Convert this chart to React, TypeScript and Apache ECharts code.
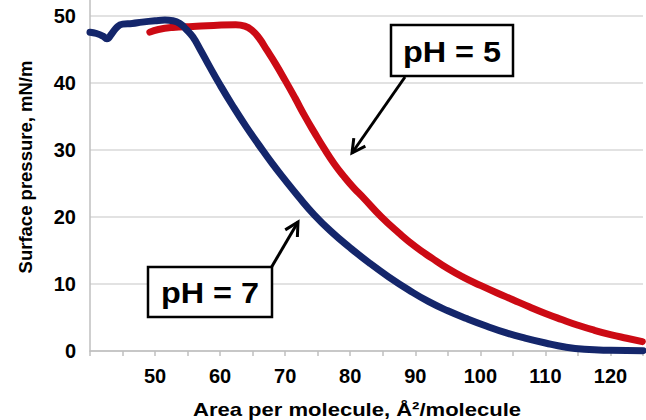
import React, { useEffect, useRef } from "react";
import * as echarts from "echarts";

const xTickValues = [50, 60, 70, 80, 90, 100, 110, 120];
const yTickValues = [0, 10, 20, 30, 40, 50];
const xTitle = "Area per molecule, Å²/molecule";
const yTitle = "Surface pressure, mN/m";

const ph7Area = [40, 41, 42, 42.6, 43.3, 44.2, 45, 46.5, 48, 50, 51.5, 52.7, 53.8, 54.8, 55.8, 57, 58.3, 60, 62, 64, 66, 68, 70, 72, 74.5, 77, 80, 83, 86, 89, 92, 95, 98, 101, 104, 107, 110, 113, 116, 120, 125];
const ph7Pressure = [47.6, 47.4, 47.0, 46.6, 47.3, 48.4, 48.8, 48.9, 49.1, 49.3, 49.4, 49.3, 48.9, 48.0, 46.9, 44.9, 42.6, 39.7, 36.5, 33.5, 30.7, 28.0, 25.5, 23.1, 20.3, 17.9, 15.4, 13.1, 11.0, 9.1, 7.4, 6.0, 4.8, 3.7, 2.7, 1.9, 1.2, 0.6, 0.25, 0.1, 0.05];

const ph5Area = [49.2, 50.5, 52.7, 55.8, 59, 62.4, 63.8, 65.0, 66.0, 67.2, 68.5, 70, 71.5, 73, 74.5, 76, 77.5, 79, 80.5, 82, 84.8, 87.5, 90, 92.5, 95, 97.5, 100, 102.5, 105, 107.5, 110, 112.5, 115, 117.5, 120, 122.5, 124.9];
const ph5Pressure = [47.6, 48.0, 48.3, 48.45, 48.6, 48.7, 48.5, 47.8, 46.7, 44.9, 42.9, 40.4, 37.8, 35.1, 32.6, 30.2, 28.0, 26.1, 24.4, 22.9, 20.0, 17.6, 15.6, 13.9, 12.3, 10.95, 9.8, 8.7, 7.65, 6.6, 5.6, 4.7, 3.85, 3.1, 2.45, 1.9, 1.4];

const FONT = "'Liberation Sans', Arial, sans-serif";

function arrow(x1: number, y1: number, x2: number, y2: number, head: number) {
  const dx = x2 - x1;
  const dy = y2 - y1;
  const len = Math.sqrt(dx * dx + dy * dy);
  const ux = dx / len;
  const uy = dy / len;
  const a = (28 * Math.PI) / 180;
  const rot = (ang: number) => [ux * Math.cos(ang) - uy * Math.sin(ang), ux * Math.sin(ang) + uy * Math.cos(ang)];
  const r1 = rot(a);
  const r2 = rot(-a);
  return [
    { type: "line", shape: { x1, y1, x2, y2 }, style: { stroke: "#000", lineWidth: 3 }, z: 99 },
    {
      type: "polyline",
      shape: { points: [[x2 - head * r1[0], y2 - head * r1[1]], [x2, y2], [x2 - head * r2[0], y2 - head * r2[1]]] },
      style: { stroke: "#000", lineWidth: 3, fill: null, lineJoin: "miter" },
      z: 99,
    },
  ];
}

function box(x: number, y: number, w: number, h: number, label: string) {
  return [
    { type: "rect", shape: { x, y, width: w, height: h }, style: { fill: "#fff", stroke: "#000", lineWidth: 2.5 }, z: 100 },
    {
      type: "text",
      x: x + w / 2,
      y: y + h / 2 + 1,
      scaleX: 1.08,
      style: { text: label, font: `bold 30px ${FONT}`, fill: "#000", align: "center", verticalAlign: "middle" },
      z: 101,
    },
  ];
}

export default function App() {
  const ref = useRef<HTMLDivElement>(null);
  useEffect(() => {
    if (!ref.current) return;
    const chart = echarts.init(ref.current, undefined, { renderer: "svg" });
    const ph7 = ph7Area.map((v, i) => [v, ph7Pressure[i]]);
    const ph5 = ph5Area.map((v, i) => [v, ph5Pressure[i]]);
    chart.setOption({
      animation: false,
      backgroundColor: "#fff",
      grid: { left: 90, right: 1, top: 0, bottom: 69, containLabel: false },
      xAxis: {
        type: "value",
        min: 40,
        max: 125,
        interval: 5,
        axisLine: { lineStyle: { color: "#bfbfbf", width: 1.5 } },
        axisTick: { show: true, length: 5, lineStyle: { color: "#bfbfbf", width: 1.5 } },
        splitLine: { show: false },
        axisLabel: {
          fontFamily: FONT,
          fontWeight: "bold",
          fontSize: 20,
          color: "#000",
          margin: 15,
          formatter: (v: number) => (xTickValues.includes(v) ? String(v) : ""),
        },
      },
      yAxis: {
        type: "value",
        min: 0,
        max: 52.4,
        interval: 10,
        axisLine: { show: true, lineStyle: { color: "#bfbfbf", width: 1.5 } },
        axisTick: { show: false },
        splitLine: { show: true, showMaxLine: false, lineStyle: { color: "#d9d9d9", width: 1.5 } },
        axisLabel: {
          fontFamily: FONT,
          fontWeight: "bold",
          fontSize: 20,
          color: "#000",
          margin: 14,
          showMaxLabel: false,
          formatter: (v: number) => (yTickValues.includes(v) ? String(v) : ""),
        },
      },
      series: [
        {
          name: "pH = 5",
          type: "line",
          data: ph5,
          smooth: 0.5,
          showSymbol: false,
          clip: false,
          lineStyle: { color: "#cc0a14", width: 7, cap: "round", join: "round" },
          z: 2,
        },
        {
          name: "pH = 7",
          type: "line",
          data: ph7,
          smooth: 0.5,
          showSymbol: false,
          clip: false,
          lineStyle: { color: "#14266b", width: 7, cap: "round", join: "round" },
          z: 3,
        },
      ],
      graphic: [
        {
          type: "text",
          x: 357,
          y: 409,
          scaleX: 1.16,
          style: { text: xTitle, font: `bold 19px ${FONT}`, fill: "#000", align: "center", verticalAlign: "middle" },
        },
        {
          type: "text",
          x: 25,
          y: 167,
          rotation: Math.PI / 2,
          style: { text: yTitle, font: `bold 18.5px ${FONT}`, fill: "#000", align: "center", verticalAlign: "middle" },
        },
        ...arrow(405, 77, 352, 153, 15),
        ...arrow(271, 268, 298, 222, 15),
        ...box(391, 25, 122, 51, "pH = 5"),
        ...box(148, 267, 124, 50, "pH = 7"),
      ],
    });
    return () => chart.dispose();
  }, []);
  return <div ref={ref} style={{ position: "fixed", left: 0, top: 0, width: 646, height: 420 }} />;
}
